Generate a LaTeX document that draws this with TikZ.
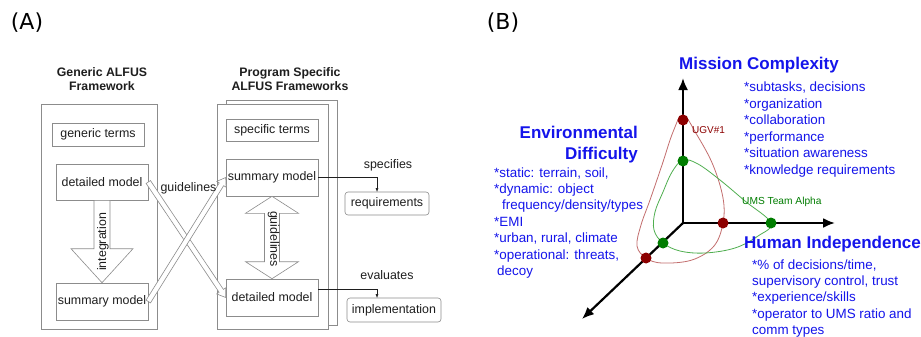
\documentclass[tikz,border=0pt]{standalone}
\usepackage{fontspec}
\setmainfont{Liberation Sans}
\newfontfamily\labfont{DejaVu Sans}
\usetikzlibrary{calc,arrows.meta}
\definecolor{boxgray}{RGB}{140,140,140}
\definecolor{txtgray}{RGB}{30,30,30}
\definecolor{axblue}{RGB}{20,20,235}
\definecolor{dotred}{RGB}{140,0,0}
\definecolor{curvered}{RGB}{195,110,110}
\definecolor{dotgreen}{RGB}{0,125,0}
\definecolor{curvegreen}{RGB}{80,175,80}
\newcommand{\hollowarrow}[6]{%
  \coordinate (hac) at ($(#3)!#6!(#2)$);
  \draw[#1] ($(#2)!#4!90:(#3)$) -- ($(hac)!#4!90:(#3)$) -- ($(hac)!#5!90:(#3)$) -- (#3)
    -- ($(hac)!#5!-90:(#3)$) -- ($(hac)!#4!-90:(#3)$) -- ($(#2)!#4!-90:(#3)$) -- cycle;}
\newcommand{\doublehollow}[6]{%
  \coordinate (hca) at ($(#3)!#6!(#2)$);
  \coordinate (hcb) at ($(#2)!#6!(#3)$);
  \draw[#1] (#2) -- ($(hcb)!#5!90:(#3)$) -- ($(hcb)!#4!90:(#3)$) -- ($(hca)!#4!90:(#3)$) -- ($(hca)!#5!90:(#3)$) -- (#3)
    -- ($(hca)!#5!-90:(#3)$) -- ($(hca)!#4!-90:(#3)$) -- ($(hcb)!#4!-90:(#3)$) -- ($(hcb)!#5!-90:(#3)$) -- cycle;}
\begin{document}
\begin{tikzpicture}[x=1pt,y=-1pt,
  frame/.style={draw=boxgray,line width=0.6pt,fill=white,inner sep=0pt},
  box/.style={draw=boxgray,line width=0.6pt,fill=white,inner sep=0pt,text=txtgray,font=\fontsize{12.4}{14}\selectfont},
  rbox/.style={box,rounded corners=3pt},
  title/.style={align=center,text=txtgray,font=\fontsize{12.3}{14}\bfseries\selectfont},
  lbl/.style={text=txtgray,font=\fontsize{12.4}{14}\selectfont,inner sep=0pt},
  harrow/.style={draw=boxgray,line width=0.6pt,fill=white},
  conn/.style={draw=txtgray,line width=0.5pt,-{Latex[length=4pt,width=3pt]}},
  axis/.style={line width=2.2pt,-{Latex[length=12pt,width=10pt]}},
  head/.style={text=axblue,font=\fontsize{17}{21}\bfseries\selectfont,inner sep=0pt},
  item/.style={text=axblue,font=\fontsize{13.4}{16}\selectfont,inner sep=0pt,anchor=base west},
  rdot/.style={circle,fill=dotred,inner sep=0pt,minimum size=11pt},
  gdot/.style={circle,fill=dotgreen,inner sep=0pt,minimum size=11pt}]
\useasboundingbox (0,0) rectangle (921,337);
\fill[white] (0,0) rectangle (921,337);
% ---------- (A) ----------
\node (labA) [inner sep=0pt,font=\labfont\fontsize{22}{24}\selectfont] at (27,23) {(A)};
\node (t1) [title] at (102,79) {Generic ALFUS\\Framework};
\node (t2) [title] at (290,79) {Program Specific\\ALFUS Frameworks};
\node (gen) [frame,minimum width=116pt,minimum height=225pt] at (99,216.5) {};
\node (progback) [frame,minimum width=111pt,minimum height=225pt] at (281.5,212.5) {};
\node (prog) [frame,minimum width=111pt,minimum height=225pt] at (272.5,216.5) {};
\node (gterms) [box,minimum width=92pt,minimum height=23pt] at (98,134.5) {generic terms};
\node (gdet) [box,minimum width=92pt,minimum height=36pt] at (102,182) {detailed model};
\node (gsum) [box,minimum width=92pt,minimum height=37pt] at (102,301.5) {summary model};
\node (sterms) [box,minimum width=92pt,minimum height=22pt] at (272,130) {specific terms};
\node (psum) [box,minimum width=92pt,minimum height=37pt] at (272,177.5) {summary model};
\node (pdet) [box,minimum width=92pt,minimum height=37pt] at (272,297.5) {detailed model};
\node (req) [rbox,minimum width=84pt,minimum height=23pt] at (387,203.5) {requirements};
\node (impl) [rbox,minimum width=94pt,minimum height=24pt] at (394,310) {implementation};
% integration arrow
\hollowarrow{harrow}{gdet.south}{gsum.north}{8pt}{31pt}{34pt}
\node (integ) [lbl,rotate=90] at (103,242) {integration};
% guidelines double arrow
\doublehollow{harrow}{psum.south}{pdet.north}{7.5pt}{26.5pt}{17pt}
\node (guid2) [lbl,rotate=-90] at (273.5,239) {guidelines};
% crossing arrows
\hollowarrow{harrow}{gdet.east}{pdet.west}{2.6pt}{5.5pt}{8pt}
\hollowarrow{harrow}{gsum.east}{psum.west}{2.6pt}{5.5pt}{8pt}
\node (guid1) [lbl] at (188.5,188) {guidelines};
% connectors
\coordinate (reqin) at (377,192);
\coordinate (implin) at (377,298);
\coordinate (pdetout) at ($(pdet.north east)!0.27!(pdet.south east)$);
\draw[conn] (psum.east) -| (reqin);
\draw[conn] (pdetout) -| (implin);
\node (spec) [lbl] at (388,165) {specifies};
\node (eval) [lbl] at (387,275) {evaluates};
% ---------- (B) ----------
\node (labB) [inner sep=0pt,font=\labfont\fontsize{22}{24}\selectfont] at (503,23) {(B)};
\coordinate (O) at (683,223);
\coordinate (ytip) at (683,78);
\coordinate (xtip) at (835,223);
\coordinate (ztip) at (582,319);
\draw[axis] (O) -- (ytip);
\draw[axis] (O) -- (xtip);
\draw[axis] (O) -- (ztip);
\draw[curvered,line width=0.8pt] plot[smooth cycle,tension=0.6] coordinates {(683,115) (697,135) (713,165) (723,198) (723,223) (714,246) (692,260) (662,263) (646,258) (637,246) (641,225) (650,200) (662,165) (673,132)};
\draw[curvegreen,line width=0.8pt] plot[smooth cycle,tension=0.6] coordinates {(683,160) (698,164) (720,180) (745,201) (771,223) (758,236) (735,248) (705,253) (680,251) (663,243) (654,230) (655,212) (663,192) (672,172)};
\node (r1) [rdot] at (683,120) {};
\node (r2) [rdot] at (723,223) {};
\node (r3) [rdot] at (646,258) {};
\node (g1) [gdot] at (683,161) {};
\node (g2) [gdot] at (771,223) {};
\node (g3) [gdot] at (663,243) {};
\node (ugv) [text=dotred,font=\fontsize{10}{12}\selectfont,inner sep=0pt,anchor=west] at (692,130) {UGV\#1};
\node (ums) [text=dotgreen,font=\fontsize{10.2}{12}\selectfont,inner sep=0pt,anchor=west] at (742,202) {UMS Team Alpha};
\node (mc) [head,anchor=base west] at (679,70) {Mission Complexity};
\node (ed1) [head,anchor=base east] at (638,138) {Environmental};
\node (ed2) [head,anchor=base east] at (638,159) {Difficulty};
\node (hi) [head,anchor=base west] at (744,248) {Human Independence};
\foreach \t [count=\i] in {{*subtasks, decisions},{*organization},{*collaboration},{*performance},{*situation awareness},{*knowledge requirements}}
  \node (mcl\i) [item] at (744,{91.5+16.6*(\i-1)}) {\t};
\node (el1) [item] at (494,177) {*static: terrain, soil,};
\node (el2) [item] at (494,193) {*dynamic: object};
\node (el3) [item] at (502,209.5) {frequency/density/types};
\node (el4) [item] at (494,226.5) {*EMI};
\node (el5) [item] at (494,242.5) {*urban, rural, climate};
\node (el6) [item] at (494,259) {*operational: threats,};
\node (el7) [item] at (497,275.5) {decoy};
\node (hl1) [item] at (752,269.5) {*\% of decisions/time,};
\node (hl2) [item] at (752,285) {supervisory control, trust};
\node (hl3) [item] at (752,301.5) {*experience/skills};
\node (hl4) [item] at (752,318) {*operator to UMS ratio and};
\node (hl5) [item] at (752,334) {comm types};
\end{tikzpicture}
\end{document}
